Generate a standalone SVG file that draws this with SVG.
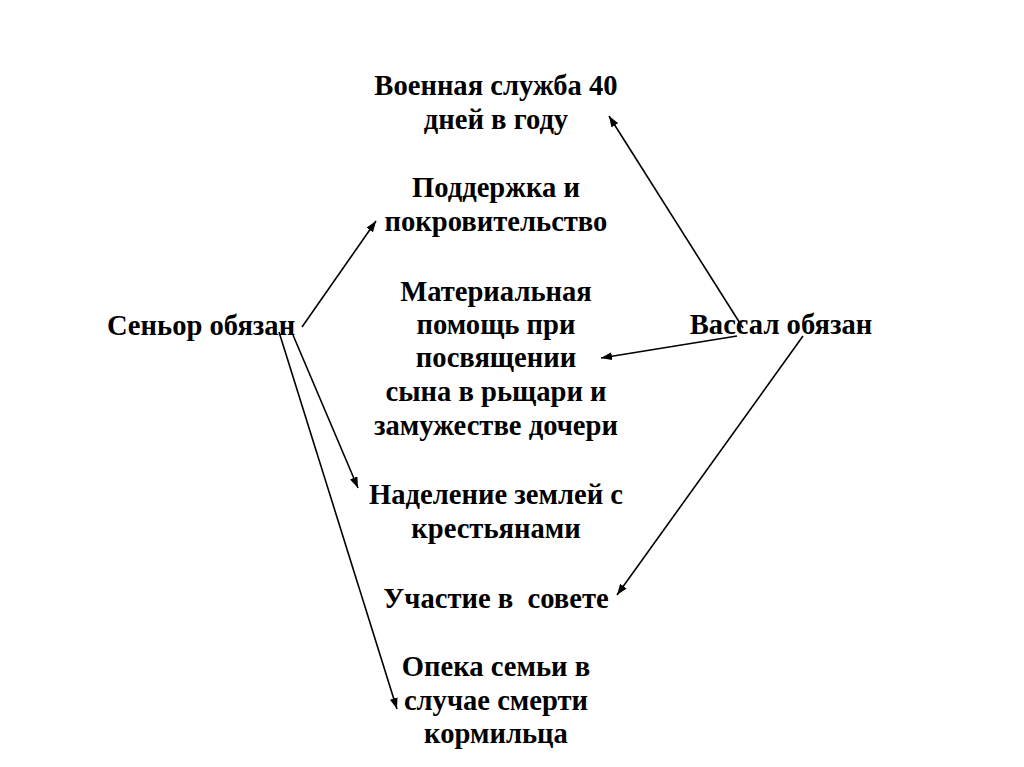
<svg xmlns="http://www.w3.org/2000/svg" width="1024" height="767" viewBox="0 0 1024 767">
<defs>
<style>
text{font-family:"Liberation Serif","Times New Roman",serif;font-weight:bold;font-size:28.6px;fill:#000;text-anchor:middle;}
.conn line{stroke:#000;stroke-width:1.6;fill:none;marker-end:url(#ah);}
</style>
<marker id="ah" viewBox="0 0 11 8" refX="11" refY="4" markerWidth="11" markerHeight="8" markerUnits="userSpaceOnUse" orient="auto">
<path d="M0,0 L11,4 L0,8 z" fill="#000"/>
</marker>
</defs>
<rect width="1024" height="767" fill="#fff"/>
<g id="senior"><text x="201" y="335">Сеньор обязан</text></g>
<g id="vassal"><text x="781" y="334">Вассал обязан</text></g>
<g id="military"><text x="496" y="95">Военная служба 40</text><text x="496" y="129">дней в году</text></g>
<g id="support"><text x="496" y="197">Поддержка и</text><text x="496" y="231">покровительство</text></g>
<g id="material"><text x="496" y="301">Материальная</text><text x="496" y="334">помощь при</text><text x="496" y="367">посвящении</text><text x="496" y="401">сына в рьщари и</text><text x="496" y="435">замужестве дочери</text></g>
<g id="land"><text x="496" y="504">Наделение землей с</text><text x="496" y="538">крестьянами</text></g>
<g id="council"><text x="496" y="608" xml:space="preserve">Участие в  совете</text></g>
<g id="care"><text x="496" y="676">Опека семьи в</text><text x="496" y="710">случае смерти</text><text x="496" y="743">кормильца</text></g>
<g id="connectors" class="conn">
<line x1="302" y1="327" x2="376" y2="221"/>
<line x1="293" y1="335" x2="358" y2="488"/>
<line x1="279" y1="332" x2="397" y2="709"/>
<line x1="743" y1="328" x2="609" y2="116"/>
<line x1="737" y1="336" x2="601" y2="358"/>
<line x1="803" y1="336" x2="617" y2="595"/>
</g>
</svg>
